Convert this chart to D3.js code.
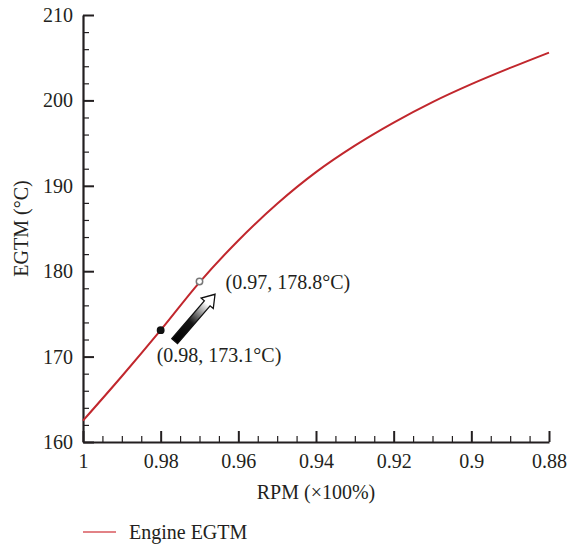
<!DOCTYPE html>
<html>
<head>
<meta charset="utf-8">
<script src="https://cdn.jsdelivr.net/npm/d3@7"></script>
<style>
  body { margin: 0; background: #fff; }
  text { font-family: "Liberation Serif", "DejaVu Serif", serif; fill: #231f20; }
</style>
</head>
<body>
<div id="graph"></div>
<script>
// data
const rpm = [1.0, 0.99, 0.98, 0.97, 0.96, 0.95, 0.94, 0.93, 0.92, 0.91, 0.9, 0.89, 0.88];
const egtm = [162.5, 167.7, 173.1, 178.7, 183.6, 187.9, 191.6, 194.7, 197.4, 199.8, 201.9, 203.8, 205.6];
const xTicks = [1, 0.98, 0.96, 0.94, 0.92, 0.9, 0.88];
const yTicks = [160, 170, 180, 190, 200, 210];
const marked = [
  { rpm: 0.98, egtm: 173.1, label: "(0.98, 173.1°C)", fill: "#111", stroke: "#111" },
  { rpm: 0.97, egtm: 178.8, label: "(0.97, 178.8°C)", fill: "#fff", stroke: "#777" }
];

const WIDTH = 568, HEIGHT = 546;
const MARGIN = { t: 15, l: 83, r: 19, b: 104 };
const FONT = 20;

const svg = d3.select("#graph").append("svg")
  .attr("width", WIDTH).attr("height", HEIGHT);

const x = d3.scaleLinear().domain([1, 0.88]).range([MARGIN.l, WIDTH - MARGIN.r]);
const y = d3.scaleLinear().domain([160, 210]).range([HEIGHT - MARGIN.b, MARGIN.t]);

// minor ticks
const xMinor = d3.range(0, 25).map(i => +(1 - i * 0.005).toFixed(3)).filter(v => Math.round(v * 1000) % 20 !== 0);
const yMinor = d3.range(160, 211, 2).filter(v => v % 10 !== 0);

svg.append("g")
  .attr("transform", `translate(0, ${y(160)})`)
  .call(d3.axisBottom(x).tickValues(xMinor).tickSize(-6).tickFormat(""))
  .call(g => g.select(".domain").remove())
  .call(g => g.selectAll("line").attr("stroke", "#231f20").attr("stroke-width", 1.2));

svg.append("g")
  .attr("transform", `translate(${x(1)}, 0)`)
  .call(d3.axisLeft(y).tickValues(yMinor).tickSize(-6).tickFormat(""))
  .call(g => g.select(".domain").remove())
  .call(g => g.selectAll("line").attr("stroke", "#231f20").attr("stroke-width", 1.2));

// major axes
const xas = d3.axisBottom(x).tickValues(xTicks).tickSize(-11).tickSizeOuter(0)
  .tickPadding(12).tickFormat(d => d3.format("")(d));
svg.append("g")
  .attr("transform", `translate(0, ${y(160)})`)
  .call(xas)
  .call(g => g.select(".domain").attr("stroke", "#231f20").attr("stroke-width", 2.2))
  .call(g => g.selectAll("line").attr("stroke", "#231f20").attr("stroke-width", 2))
  .call(g => g.selectAll("text").attr("font-size", FONT).attr("font-family", null));

const yas = d3.axisLeft(y).tickValues(yTicks).tickSize(-11).tickSizeOuter(0).tickPadding(10);
svg.append("g")
  .attr("transform", `translate(${x(1)}, 0)`)
  .call(yas)
  .call(g => g.select(".domain").attr("stroke", "#231f20").attr("stroke-width", 2.2))
  .call(g => g.selectAll("line").attr("stroke", "#231f20").attr("stroke-width", 2))
  .call(g => g.selectAll("text").attr("font-size", FONT).attr("font-family", null));

// curve
const line = d3.line().x((d, i) => x(rpm[i])).y(d => y(d)).curve(d3.curveCatmullRom.alpha(0.5));
svg.append("path")
  .datum(egtm)
  .attr("d", line)
  .attr("fill", "none")
  .attr("stroke", "#c1272d")
  .attr("stroke-width", 2);

// marked points
svg.selectAll("circle.mark")
  .data(marked)
  .join("circle")
  .attr("class", "mark")
  .attr("cx", d => x(d.rpm))
  .attr("cy", d => y(d.egtm))
  .attr("r", 3.2)
  .attr("fill", d => d.fill)
  .attr("stroke", d => d.stroke)
  .attr("stroke-width", 1.5);

svg.append("text")
  .attr("x", x(0.98) - 4).attr("y", y(173.1) + 32)
  .attr("font-size", FONT)
  .text(marked[0].label);
svg.append("text")
  .attr("x", x(0.97) + 26).attr("y", y(178.8) + 8)
  .attr("font-size", FONT)
  .text(marked[1].label);

// arrow from the first point towards the second
const tail = [x(0.9764), y(171.8)], tip = [x(0.966), y(177.3)];
const dx = tip[0] - tail[0], dy = tip[1] - tail[1];
const len = Math.hypot(dx, dy);
const ang = Math.atan2(dy, dx) * 180 / Math.PI;
// gradient lives in the arrow's rotated space
const grad = svg.append("defs").append("linearGradient")
  .attr("id", "arrowGrad")
  .attr("gradientUnits", "userSpaceOnUse")
  .attr("x1", 0).attr("y1", 0).attr("x2", len).attr("y2", 0);
grad.append("stop").attr("offset", 0).attr("stop-color", "#000");
grad.append("stop").attr("offset", 0.4).attr("stop-color", "#151515");
grad.append("stop").attr("offset", 0.8).attr("stop-color", "#fff");
const sw = 3.8, hw = 8, hl = 12;
svg.append("path")
  .attr("transform", `translate(${tail[0]}, ${tail[1]}) rotate(${ang})`)
  .attr("d", `M0,${-sw} L${len - hl},${-sw} L${len - hl},${-hw} L${len},0 L${len - hl},${hw} L${len - hl},${sw} L0,${sw} Z`)
  .attr("fill", "url(#arrowGrad)")
  .attr("stroke", "#111")
  .attr("stroke-width", 1.3)
  .attr("stroke-linejoin", "miter");

// axis titles
svg.append("text")
  .attr("x", (x(1) + x(0.88)) / 2).attr("y", 499)
  .attr("text-anchor", "middle")
  .attr("font-size", FONT)
  .text("RPM (×100%)");
svg.append("text")
  .attr("transform", `translate(28, ${(y(160) + y(210)) / 2}) rotate(-90)`)
  .attr("text-anchor", "middle")
  .attr("font-size", FONT)
  .text("EGTM (°C)");

// legend
svg.append("line")
  .attr("x1", 83).attr("x2", 116).attr("y1", 532).attr("y2", 532)
  .attr("stroke", "#d9595e").attr("stroke-width", 1.6);
svg.append("text")
  .attr("x", 129).attr("y", 539)
  .attr("font-size", FONT)
  .text("Engine EGTM");
</script>
</body>
</html>
